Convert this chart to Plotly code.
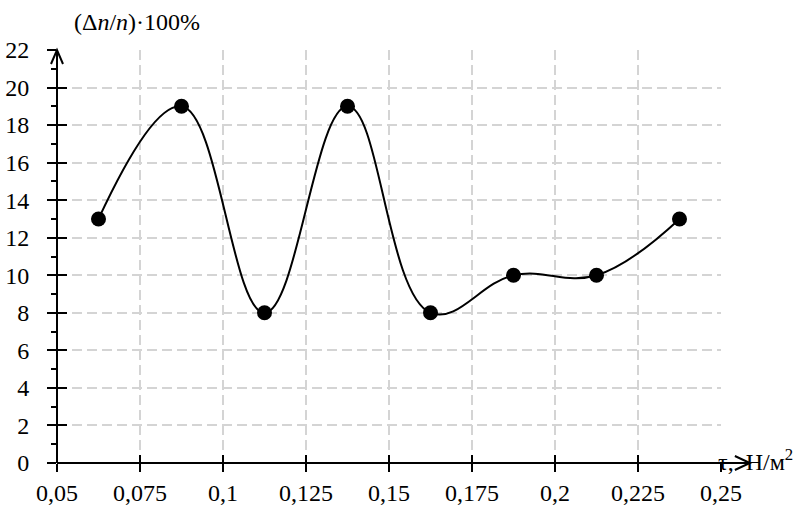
import plotly.graph_objects as go

# shear stress, N/m^2
tau = [0.0625, 0.0875, 0.1125, 0.1375, 0.1625, 0.1875, 0.2125, 0.2375]
# relative deviation, %
dev = [13, 19, 8, 19, 8, 10, 10, 13]

x_ticks = [0.05, 0.075, 0.1, 0.125, 0.15, 0.175, 0.2, 0.225, 0.25]
x_labels = ["0,05", "0,075", "0,1", "0,125", "0,15", "0,175", "0,2", "0,225", "0,25"]
y_ticks = list(range(0, 23, 2))

X_MIN, X_MAX = 0.05, 0.25
Y_MIN, Y_MAX = 0, 22
X_TIP = 0.2587  # end of the x-axis arrow

FONT = "Liberation Serif"
GRID = "#d4d4d4"

fig = go.Figure()

fig.add_trace(go.Scatter(
    x=tau, y=dev, mode="lines+markers",
    line=dict(shape="spline", smoothing=1.15, color="black", width=2),
    marker=dict(size=15, color="black"),
    showlegend=False, hoverinfo="skip",
))
# empty trace so the overlay axes (inner halves of the ticks) get drawn
fig.add_trace(go.Scatter(x=[None], y=[None], xaxis="x2", yaxis="y2",
                         showlegend=False, hoverinfo="skip"))

common_font = dict(family=FONT, size=24, color="black")

fig.update_layout(
    width=797, height=507,
    margin=dict(l=57, r=76, t=50, b=44, autoexpand=False),
    paper_bgcolor="white", plot_bgcolor="white",
    font=common_font,
    separators=", ",
    xaxis=dict(
        range=[X_MIN, X_MAX], tickvals=x_ticks, ticktext=x_labels,
        ticks="outside", ticklen=8, tickwidth=2, tickcolor="black",
        showgrid=True, gridcolor=GRID, gridwidth=1.5, griddash="10px,5px",
        showline=False, zeroline=False, tickfont=common_font,
        ticklabelstandoff=0, automargin=False,
    ),
    yaxis=dict(
        range=[Y_MIN, Y_MAX], tickvals=y_ticks,
        ticks="outside", ticklen=9, tickwidth=2, tickcolor="black",
        minor=dict(dtick=1, tick0=0, ticks="outside", ticklen=5, tickwidth=2,
                   tickcolor="black", showgrid=False),
        showgrid=True, gridcolor=GRID, gridwidth=1.5, griddash="10px,5px",
        showline=False, zeroline=False, tickfont=common_font,
        ticklabelstandoff=13, automargin=False,
    ),
    xaxis2=dict(
        overlaying="x", anchor="y2", range=[X_MIN, X_MAX], tickvals=x_ticks,
        ticks="inside", ticklen=8, tickwidth=2, tickcolor="black",
        showticklabels=False, showgrid=False, zeroline=False, showline=False,
        automargin=False,
    ),
    yaxis2=dict(
        overlaying="y", anchor="x2", range=[Y_MIN, Y_MAX], tickvals=y_ticks,
        ticks="inside", ticklen=10, tickwidth=2, tickcolor="black",
        showticklabels=False, showgrid=False, zeroline=False, showline=False,
        automargin=False,
    ),
)

x_tip_paper = (X_TIP - X_MIN) / (X_MAX - X_MIN)

# axis lines with arrowheads
fig.add_shape(type="line", xref="paper", yref="paper", x0=0, x1=x_tip_paper, y0=0, y1=0,
              line=dict(color="black", width=2), layer="above")
fig.add_shape(type="line", xref="paper", yref="paper", x0=0, x1=0, y0=0, y1=1,
              line=dict(color="black", width=2), layer="above")
fig.add_shape(type="path", xref="paper", yref="paper",
              xsizemode="pixel", ysizemode="pixel", xanchor=x_tip_paper, yanchor=0,
              path="M -15,7 L 0,0 L -15,-7", line=dict(color="black", width=2), layer="above")
fig.add_shape(type="path", xref="paper", yref="paper",
              xsizemode="pixel", ysizemode="pixel", xanchor=0, yanchor=1,
              path="M -6,-14 L 0,0 L 6,-14", line=dict(color="black", width=2), layer="above")

# axis titles
fig.add_annotation(xref="paper", yref="paper", x=0.022, y=1.0, yshift=28,
                   xanchor="left", yanchor="middle", showarrow=False,
                   text="(Δ<i>n</i>/<i>n</i>)·100%", font=common_font)
fig.add_annotation(xref="paper", yref="paper", x=0.993, y=0, yshift=3,
                   xanchor="left", yanchor="middle", showarrow=False,
                   text="τ,  Н/м<sup>2</sup>", font=common_font)

fig.write_html("out.html")
